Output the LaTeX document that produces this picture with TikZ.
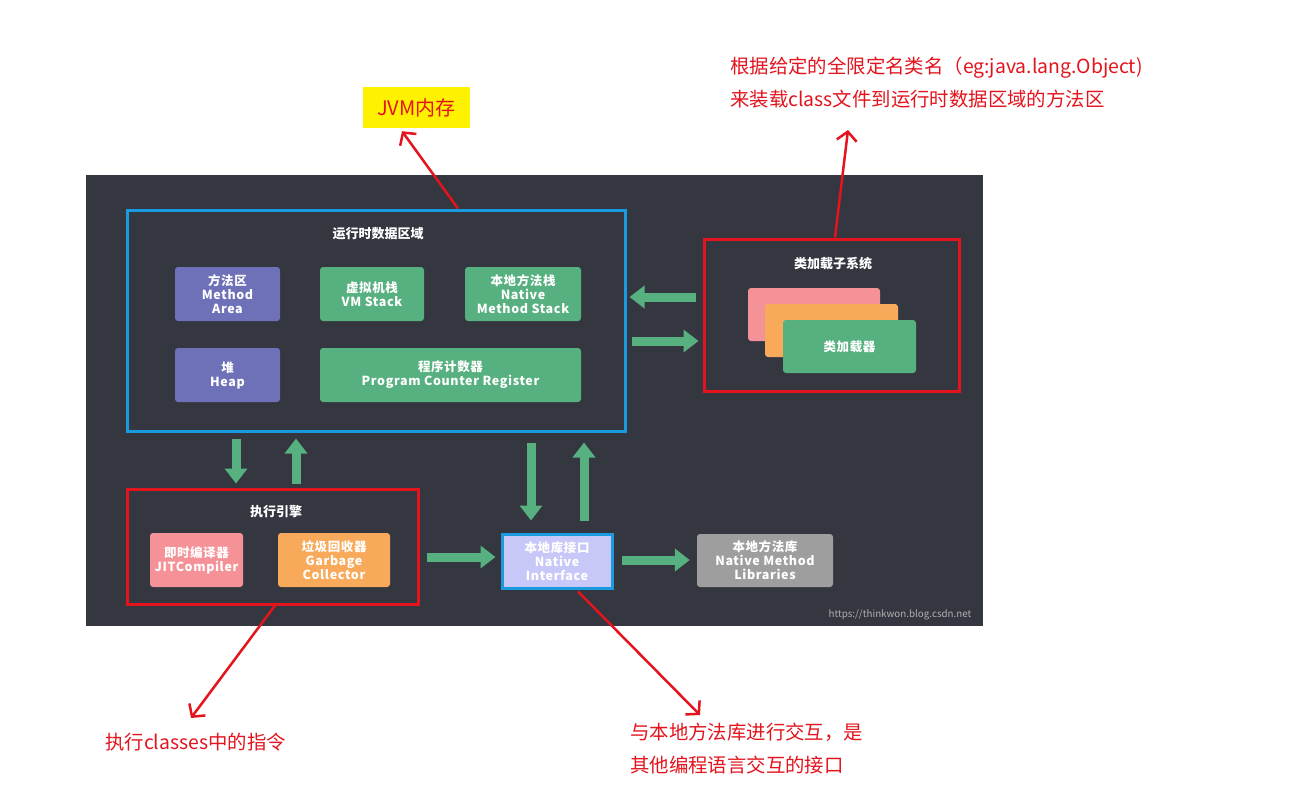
\documentclass[tikz,border=0pt]{standalone}
\usepackage{fontspec}
\setmainfont{Noto Sans CJK SC}
\usetikzlibrary{arrows.meta,calc}
\definecolor{bgdark}{HTML}{343640}
\definecolor{bblue}{HTML}{1A9BE0}
\definecolor{rred}{HTML}{E3141E}
\definecolor{ggreen}{HTML}{57B07F}
\definecolor{ppurple}{HTML}{6E70B8}
\definecolor{ppink}{HTML}{F59297}
\definecolor{oorange}{HTML}{F8AA5A}
\definecolor{llav}{HTML}{C8C8F8}
\definecolor{ggray}{HTML}{9E9E9E}
\definecolor{yyellow}{HTML}{FFF200}
\begin{document}
\begin{tikzpicture}[x=1pt,y=-1pt,
  inbox/.style={rounded corners=3pt, inner sep=0pt, text=white, align=center,
    font=\fontsize{12.5}{14}\selectfont\bfseries\addfontfeature{LetterSpace=5}},
  frameblue/.style={draw=bblue, line width=3pt, inner sep=0pt},
  framered/.style={draw=rred, line width=3pt, inner sep=0pt},
  ttl/.style={text=white, font=\fontsize{13}{15}\selectfont\bfseries, inner sep=0pt},
  garrow/.style={draw=ggreen, line width=9pt, -{Triangle[width=22pt,length=15pt]}},
  rarrow/.style={draw=rred, line width=2.5pt, -{Straight Barb[length=9pt,width=20pt]}},
  annot/.style={text=rred, font=\fontsize{19.4}{33}\selectfont, align=left, inner sep=0pt},
]
\useasboundingbox (0,0) rectangle (1310,788);
\fill[white] (0,0) rectangle (1310,788);
\fill[bgdark] (86,175) rectangle (983,626);

% runtime data area
\node[frameblue, minimum width=498pt, minimum height=221pt] (rda) at (376,320.5) {};
\node[ttl] (rdat) at (378,234) {运行时数据区域};
\node[inbox, fill=ppurple, minimum width=105pt, minimum height=54pt] (ma) at (227.5,294) {方法区\\Method\\Area};
\node[inbox, fill=ggreen, minimum width=104pt, minimum height=54pt] (vms) at (372,294) {虚拟机栈\\VM Stack};
\node[inbox, fill=ggreen, minimum width=116pt, minimum height=54pt] (nms) at (523,294) {本地方法栈\\Native\\Method Stack};
\node[inbox, fill=ppurple, minimum width=105pt, minimum height=54pt] (heap) at (227.5,375) {堆\\Heap};
\node[inbox, fill=ggreen, minimum width=261pt, minimum height=54pt] (pcr) at (450.5,375) {程序计数器\\Program Counter Register};

% class loader subsystem
\node[framered, minimum width=255pt, minimum height=152pt] (cls) at (831.5,315) {};
\node[ttl] (clst) at (833,264) {类加载子系统};
\node[inbox, fill=ppink, minimum width=132pt, minimum height=53pt] (c1) at (814,314.5) {};
\node[inbox, fill=oorange, minimum width=133pt, minimum height=53pt] (c2) at (831.5,330.5) {};
\node[inbox, fill=ggreen, minimum width=133pt, minimum height=53pt] (c3) at (849.5,346.5) {类加载器};

% execution engine
\node[framered, minimum width=291pt, minimum height=115pt] (ee) at (272.5,546.5) {};
\node[ttl] (eet) at (276,512) {执行引擎};
\node[inbox, fill=ppink, minimum width=93pt, minimum height=54pt] (jit) at (196.5,560) {即时编译器\\JITCompiler};
\node[inbox, fill=oorange, minimum width=112pt, minimum height=54pt] (gc) at (334,560) {垃圾回收器\\Garbage\\Collector};

% native interface and libraries
\node[inbox, fill=llav, draw=bblue, line width=3pt, rounded corners=0pt, minimum width=110pt, minimum height=54pt] (ni) at (557,561) {本地库接口\\Native\\Interface};
\node[inbox, fill=ggray, minimum width=136pt, minimum height=53pt] (nml) at (765,560.5) {本地方法库\\Native Method\\Libraries};

\node[text=ggray!80!white, font=\fontsize{9.8}{11}\selectfont, inner sep=0pt] (wm) at (900,615) {https://thinkwon.blog.csdn.net};

% green arrows
\draw[garrow] ([yshift=-6pt]rda.south -| 236,0) -- ([yshift=4pt]ee.north -| 236,0);
\draw[garrow] ([yshift=4pt]ee.north -| 296,0) -- ([yshift=-6pt]rda.south -| 296,0);
\draw[garrow] ([yshift=-10pt]rda.south -| 531,0) -- ([yshift=12pt]ni.north -| 531,0);
\draw[garrow] ([yshift=12pt]ni.north -| 584,0) -- ([yshift=-10pt]rda.south -| 584,0);
\draw[garrow] ([xshift=-7pt]cls.west |- 0,297) -- ([xshift=3pt]rda.east |- 0,297);
\draw[garrow] ([xshift=5pt]rda.east |- 0,341) -- ([xshift=-4pt]cls.west |- 0,341);
\draw[garrow] ([xshift=7pt]ee.east |- 0,557) -- ([xshift=-5pt]ni.west |- 0,557);
\draw[garrow] ([xshift=8pt]ni.east |- 0,560) -- ([xshift=-7pt]nml.west |- 0,560);

% annotations
\node[fill=yyellow, text=rred, font=\fontsize{20}{22}\selectfont, minimum width=107pt, minimum height=41pt, inner sep=0pt] (jvm) at (416.5,107.5) {JVM内存};
\node[annot, anchor=west] (tr) at (730,83) {根据给定的全限定名类名（eg:java.lang.Object)\\来装载class文件到运行时数据区域的方法区};
\node[annot, anchor=west] (bl) at (105,742) {执行classes中的指令};
\node[annot, anchor=west] (br) at (630,749) {与本地方法库进行交互，是\\其他编程语言交互的接口};

\draw[rarrow] (rda.north -| 458,0) -- ([yshift=-3pt]jvm.south -| 402,0);
\draw[rarrow] (cls.north -| 835,0) -- (848,130) coordinate (trtip);
\draw[rarrow] (ee.south -| 275,0) -- (191,718) coordinate (bltip);
\draw[rarrow] ([yshift=-2pt]ni.south -| 578,0) -- (700,715) coordinate (brtip);
\end{tikzpicture}
\end{document}
